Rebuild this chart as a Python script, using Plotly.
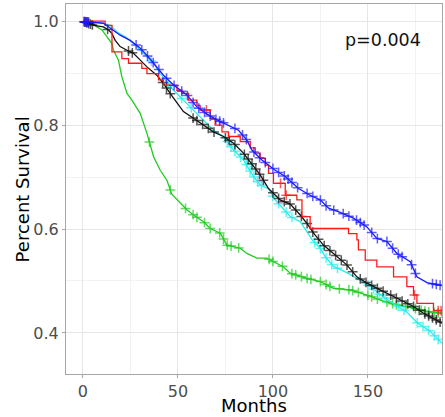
import numpy as np
import plotly.graph_objects as go

# ---- data ----
blue_t = [0, 0.3, 10.8, 14.4, 19.6, 24.9, 30.2, 34.5, 38.9, 42.4, 47.7, 54.7, 60, 65.3, 70.5, 76.6, 81.9, 86.3, 88.9, 94.2, 101.2, 106.5, 113.5, 119.6, 124.9, 129.3, 135.4, 142.4, 149.5, 154.7, 160, 165.3, 172.3, 175.8, 181.1, 189]
blue_s = [1.0, 0.999, 0.996, 0.986, 0.973, 0.963, 0.948, 0.931, 0.912, 0.896, 0.877, 0.858, 0.835, 0.821, 0.810, 0.800, 0.790, 0.771, 0.752, 0.733, 0.713, 0.701, 0.678, 0.665, 0.656, 0.640, 0.632, 0.621, 0.604, 0.582, 0.576, 0.553, 0.537, 0.508, 0.497, 0.491]
blue_cens = [0.5, 1, 1.5, 2, 2.5, 3, 28, 31, 34, 37, 40, 44, 48, 52, 55, 58, 61, 64, 67, 70, 72, 74, 80, 84, 86, 90, 93, 96, 100, 103, 106, 108, 110, 113, 118, 121, 125, 128, 132, 137, 140, 144, 146, 148, 152, 155, 160, 163, 166, 168, 173, 175, 184, 186, 188]

red_t = [0, 11.7, 15.3, 20.5, 24, 31, 33.7, 39.8, 42.4, 49.5, 52.1, 55.6, 60, 61.7, 67, 69.6, 73.2, 76.6, 82.8, 88.1, 90.7, 93.3, 96, 97.7, 100.3, 106.5, 112.6, 115.3, 119.6, 139.8, 144.2, 145, 148.6, 154.7, 163.5, 170.5, 174, 175.8, 184.5, 189]
red_s = [1.0, 0.992, 0.941, 0.928, 0.919, 0.909, 0.899, 0.887, 0.877, 0.867, 0.861, 0.848, 0.838, 0.829, 0.813, 0.800, 0.787, 0.778, 0.768, 0.756, 0.746, 0.736, 0.723, 0.707, 0.688, 0.665, 0.656, 0.624, 0.601, 0.591, 0.579, 0.560, 0.540, 0.527, 0.508, 0.489, 0.473, 0.457, 0.443, 0.443]
red_cens = [65, 104, 107, 174.5, 187, 188.5]

black_t = [0, 0.3, 5.6, 10.8, 13.5, 15.3, 17, 19.6, 23.2, 26.6, 30.2, 33.7, 38.9, 42.4, 45.9, 49.5, 52.9, 58.2, 63.5, 68.7, 74, 79.3, 84.5, 88.9, 93.3, 97.7, 103.8, 109.1, 114.4, 117.9, 121.4, 126.6, 133.7, 138.9, 144.2, 149.5, 156.5, 163.5, 168.7, 174, 179.3, 184.5, 189]
black_s = [1.0, 0.999, 0.992, 0.989, 0.983, 0.976, 0.963, 0.951, 0.944, 0.938, 0.925, 0.912, 0.896, 0.880, 0.861, 0.842, 0.826, 0.813, 0.800, 0.787, 0.778, 0.765, 0.746, 0.726, 0.704, 0.678, 0.656, 0.648, 0.627, 0.611, 0.592, 0.569, 0.547, 0.531, 0.508, 0.496, 0.483, 0.470, 0.460, 0.451, 0.438, 0.428, 0.419]
black_cens = [1, 2, 3, 4, 5, 13, 24, 26, 42, 44, 46, 58, 60, 63, 66, 69, 75, 77, 80, 85, 87, 89, 91, 93, 95, 100, 103, 106, 109, 112, 115, 118, 121, 124, 127, 130, 133, 136, 139, 142, 146, 149, 152, 155, 158, 162, 165, 168, 171, 174, 177, 180, 182, 184, 186, 188]

cyan_t = [0, 0.3, 9.1, 14.4, 17.9, 22.3, 26.6, 31.9, 37.2, 40.7, 44.2, 47.7, 52.9, 58.2, 63.5, 68.7, 74, 79.3, 84.5, 89.8, 93.3, 97.7, 101.2, 109.1, 114.4, 117.9, 120.7, 124.9, 127.5, 131.9, 138.9, 147, 152.3, 156.5, 165.3, 170.5, 175.8, 182.8, 189]
cyan_s = [1.0, 1.0, 0.997, 0.992, 0.979, 0.970, 0.957, 0.938, 0.919, 0.899, 0.883, 0.867, 0.848, 0.829, 0.810, 0.790, 0.778, 0.752, 0.733, 0.701, 0.685, 0.677, 0.656, 0.624, 0.614, 0.595, 0.579, 0.563, 0.547, 0.528, 0.516, 0.499, 0.487, 0.473, 0.453, 0.440, 0.420, 0.403, 0.380]
cyan_cens = [36, 45, 52, 57, 76, 78, 80, 83, 86, 88, 90, 92, 94, 100, 103, 107, 110, 122, 125, 128, 131, 134, 150, 153, 156, 159, 166, 169, 176, 179, 182, 185, 187]

green_t = [0, 5, 7.4, 10, 12.6, 15.3, 16.1, 18.7, 20.5, 23.2, 25.8, 30.2, 33.7, 37.2, 40.7, 44.2, 46.8, 51.2, 54.7, 58.2, 63.5, 67, 72.3, 75.8, 82.8, 86.3, 91.6, 96.8, 100.3, 105.6, 109.1, 117.9, 124.9, 131.9, 140.7, 149.5, 156.5, 165.3, 174, 181, 189]
green_s = [1.0, 0.996, 0.989, 0.983, 0.970, 0.957, 0.944, 0.925, 0.893, 0.861, 0.848, 0.822, 0.784, 0.739, 0.713, 0.694, 0.667, 0.650, 0.637, 0.627, 0.614, 0.601, 0.592, 0.569, 0.563, 0.553, 0.544, 0.544, 0.537, 0.527, 0.515, 0.505, 0.499, 0.486, 0.483, 0.473, 0.463, 0.454, 0.448, 0.441, 0.438]
green_cens = [35, 46, 54, 58, 60, 64, 67, 72, 74, 76, 78, 82, 98, 100, 105, 110, 112, 115, 118, 120, 125, 128, 130, 135, 140, 142, 145, 150, 152, 155, 160, 163, 165, 170, 175, 178, 180, 182, 185, 187, 189]

p_label = "p=0.004"

series = [
    (green_t, green_s, green_cens, "#1fcc1f", "linear"),
    (cyan_t, cyan_s, cyan_cens, "#22eeee", "linear"),
    (black_t, black_s, black_cens, "#111111", "linear"),
    (red_t, red_s, red_cens, "#ff1a1a", "hv"),
    (blue_t, blue_s, blue_cens, "#1a1aff", "linear"),
]

fig = go.Figure()
for t, s, cens, col, shape in series:
    fig.add_trace(go.Scatter(x=t, y=s, mode="lines", line=dict(color=col, width=1.3, shape=shape),
                             showlegend=False, hoverinfo="skip"))
    if shape == "hv":
        idx = np.searchsorted(np.array(t), np.array(cens), side="right") - 1
        cy = np.array(s)[idx]
    else:
        cy = np.interp(cens, t, s)
    fig.add_trace(go.Scatter(x=cens, y=cy, mode="markers",
                             marker=dict(symbol="cross-thin", size=7, opacity=0.7,
                                         line=dict(color=col, width=1.5)),
                             showlegend=False, hoverinfo="skip"))

fig.add_annotation(x=158.2, y=0.963, text=p_label, showarrow=False, xref="x", yref="y",
                   font=dict(size=17.5, color="#111111"), xanchor="center", yanchor="middle")
fig.add_annotation(x=0.5, y=-0.086, xref="paper", yref="paper", text="Months", showarrow=False,
                   borderpad=0, font=dict(size=18, color="#000000"), xanchor="center", yanchor="middle")
fig.add_annotation(x=-0.116, y=0.5, xref="paper", yref="paper", text="Percent Survival", showarrow=False,
                   textangle=-90, font=dict(size=18, color="#000000"), xanchor="center", yanchor="middle")

axis_common = dict(showline=True, mirror=True, linecolor="#a6a6a6", linewidth=1,
                   showgrid=True, gridcolor="#e6e6e6", gridwidth=1, zeroline=False,
                   ticks="outside", ticklen=3, tickcolor="#a6a6a6",
                   tickfont=dict(size=16, color="#4d4d4d"))
fig.update_xaxes(range=[-8.9, 189], tickvals=[0, 50, 100, 150],
                 minor=dict(tickvals=[25, 75, 125, 175], showgrid=True, gridcolor="#f2f2f2", ticks=""),
                 **axis_common)
fig.update_yaxes(range=[0.321, 1.033], tickvals=[0.4, 0.6, 0.8, 1.0], ticktext=["0.4", "0.6", "0.8", "1.0"],
                 minor=dict(tickvals=[0.5, 0.7, 0.9], showgrid=True, gridcolor="#f2f2f2", ticks=""),
                 **axis_common)
fig.update_layout(width=445, height=417, margin=dict(l=66, r=3, t=4, b=43),
                  plot_bgcolor="white", paper_bgcolor="white",
                  font=dict(family="DejaVu Sans"))
fig.write_html("out.html", config={"displayModeBar": False},
               post_script="document.body.style.margin='0';document.body.style.overflow='hidden';")
